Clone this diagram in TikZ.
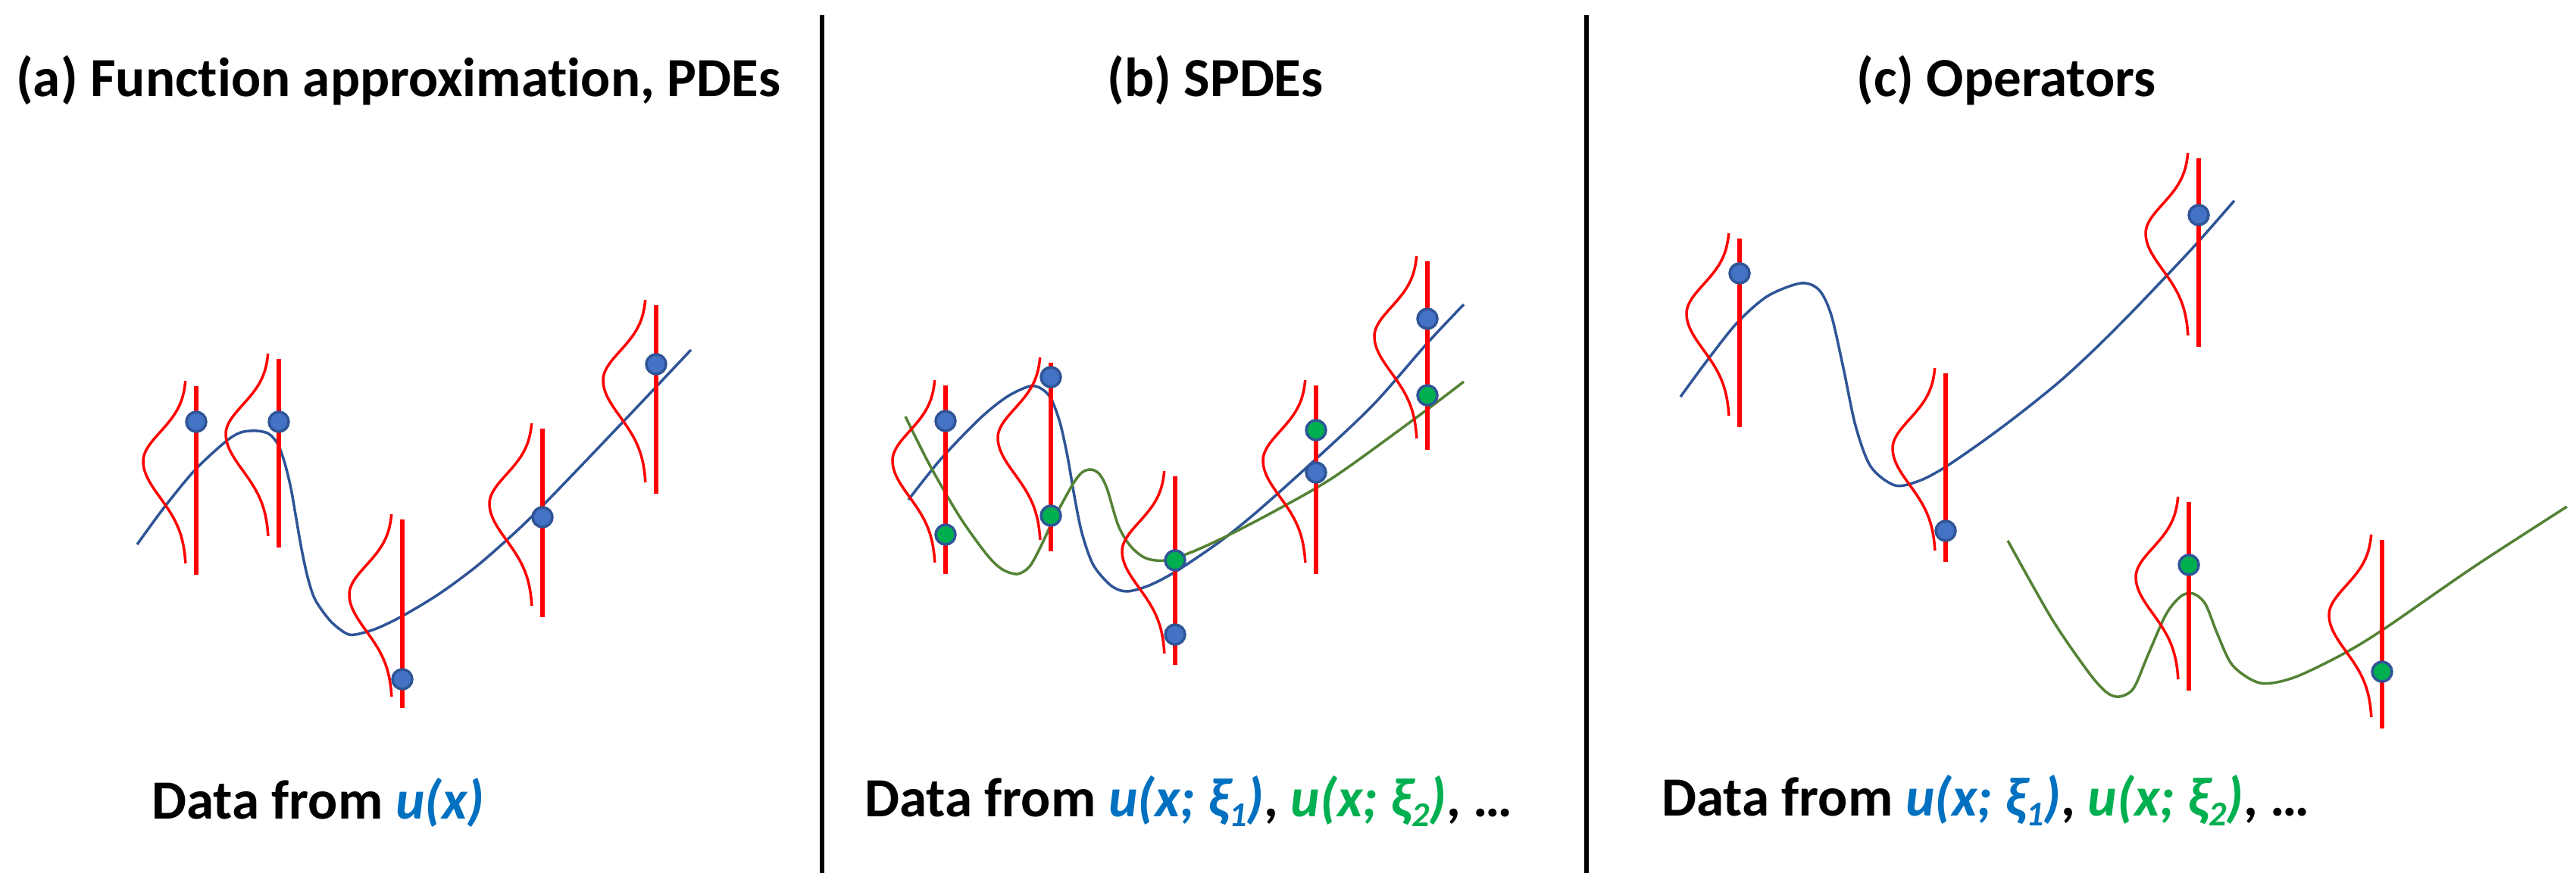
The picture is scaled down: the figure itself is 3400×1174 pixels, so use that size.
\documentclass[tikz,border=0pt]{standalone}
\usepackage{fontspec}
\setmainfont{Carlito}[Ligatures={NoCommon}]
\definecolor{bcurve}{HTML}{2F5597}
\definecolor{bfill}{HTML}{4472C4}
\definecolor{gfill}{HTML}{00B050}
\definecolor{gcurve}{HTML}{548235}
\definecolor{tblue}{HTML}{0070C0}
\definecolor{tgreen}{HTML}{00B050}
\newcommand{\lowsub}[1]{\raisebox{-13pt}{\fontsize{46}{50}\selectfont #1}}
\tikzset{
  redbar/.style={draw=red, line width=6pt},
  gausscurve/.style={draw=red, line width=3.5pt},
  bluecurve/.style={draw=bcurve, line width=3.5pt},
  greencurve/.style={draw=gcurve, line width=3.5pt},
  divider/.style={draw=black, line width=6pt},
  bdot/.style={circle, draw=bcurve, fill=bfill, line width=3.5pt, minimum size=26pt, inner sep=0pt},
  gdot/.style={circle, draw=bcurve, fill=gfill, line width=3.5pt, minimum size=26pt, inner sep=0pt},
  txt/.style={inner sep=0pt, font=\fontsize{73}{88}\selectfont\bfseries},
  pics/meas/.style={code={
    \draw[redbar] (0,0) -- (0,249);
    \draw[gausscurve] plot[domain=0:1,samples=41,smooth]
      ({-13-57*exp(-0.5*((\x-0.44)/((\x<0.44)*0.16+(\x>=0.44)*0.2))^2)},{-7+241*\x});
  }}
}
\begin{document}
\begin{tikzpicture}[x=1pt,y=-1pt]
\useasboundingbox (0,0) rectangle (3400,1174);

% dividers
\coordinate (d1t) at (1085,20); \coordinate (d1b) at (1085,1153);
\coordinate (d2t) at (2094,20); \coordinate (d2b) at (2094,1153);
\draw[divider] (d1t) -- (d1b);
\draw[divider] (d2t) -- (d2b);

% titles
\node[txt, anchor=base west] (ta) at (21,128) {(a) Function approximation, PDEs};
\node[txt, anchor=base] (tb) at (1604,128) {(b) SPDEs};
\node[txt, anchor=base west] (tc) at (2450,128) {(c) Operators};

% bottom texts
\node[txt, anchor=base west] (da) at (200,1081) {Data from \textcolor{tblue}{\itshape u(x)}};
\node[txt, anchor=base west] (db) at (1141,1078) {Data from \textcolor{tblue}{\itshape u(x; ξ\lowsub{1})}, \textcolor{tgreen}{\itshape u(x; ξ\lowsub{2})}, …};
\node[txt, anchor=base west] (dc) at (2193,1077) {Data from \textcolor{tblue}{\itshape u(x; ξ\lowsub{1})}, \textcolor{tgreen}{\itshape u(x; ξ\lowsub{2})}, …};

% ---------- panel (a) ----------
\draw[bluecurve] plot[smooth, tension=0.5] coordinates {
 (181,719) (216,671) (257,621) (298,583) (318,571) (339,569) (355,573) (367,587) (376,612) (384,645)
 (391,685) (398,725) (406,762) (416,792) (436,820) (456,836) (469,838) (497,830) (532,813)
 (580,784) (630,747) (680,703) (716,668) (770,612) (830,549) (880,496) (912,462)};
\pic at (259,510) {meas};
\pic at (368,474) {meas};
\pic at (531,686) {meas};
\pic at (716,566) {meas};
\pic at (866,403) {meas};
\node[bdot] (a1) at (259,557) {};
\node[bdot] (a2) at (368,557) {};
\node[bdot] (a3) at (531,897) {};
\node[bdot] (a4) at (716,683) {};
\node[bdot] (a5) at (866,481) {};

% ---------- panel (b) ----------
\draw[bluecurve] plot[smooth, tension=0.5] coordinates {
 (1199,660) (1242,606) (1293,553) (1329,524) (1359,510) (1374,513) (1387,526) (1399,558)
 (1409,603) (1418,655) (1428,704) (1443,746) (1466,773) (1487,781) (1517,773) (1553,754)
 (1609,716) (1660,675) (1737,606) (1813,534) (1884,453) (1932,402)};
\draw[greencurve] plot[smooth, tension=0.5] coordinates {
 (1195,550) (1227,614) (1267,683) (1303,733) (1323,752) (1343,758) (1359,748) (1374,721)
 (1390,687) (1415,641) (1428,624) (1440,620) (1451,626) (1461,645) (1476,694) (1492,721)
 (1512,737) (1538,740) (1573,729) (1619,708) (1686,673) (1762,629) (1874,548) (1932,504)};
\pic at (1248,509) {meas};
\pic at (1387,479) {meas};
\pic at (1551,629) {meas};
\pic at (1737,509) {meas};
\pic at (1884,345) {meas};
\node[bdot] (b1) at (1248,556) {};
\node[bdot] (b2) at (1387,498) {};
\node[bdot] (b3) at (1551,838) {};
\node[bdot] (b4) at (1737,624) {};
\node[bdot] (b5) at (1884,421) {};
\node[gdot] (g1) at (1248,706) {};
\node[gdot] (g2) at (1387,681) {};
\node[gdot] (g3) at (1551,740) {};
\node[gdot] (g4) at (1737,568) {};
\node[gdot] (g5) at (1884,522) {};

% ---------- panel (c) ----------
\draw[bluecurve] plot[smooth, tension=0.5] coordinates {
 (2218,524) (2254,475) (2293,426) (2333,391) (2377,374) (2401,383) (2417,416) (2433,486)
 (2449,562) (2469,616) (2501,641) (2533,635) (2564,619) (2604,592) (2644,563) (2684,532)
 (2724,499) (2768,458) (2812,414) (2856,368) (2899,322) (2949,265)};
\draw[greencurve] plot[smooth, tension=0.5] coordinates {
 (2650,714) (2708,817) (2756,887) (2780,914) (2797,920) (2816,909) (2835,865) (2859,811)
 (2879,787) (2895,784) (2911,798) (2927,838) (2947,879) (2983,902) (3027,895) (3090,865)
 (3146,831) (3266,748) (3388,669)};
\pic at (2296,315) {meas};
\pic at (2568,493) {meas};
\pic at (2902,209) {meas};
\pic at (2889,663) {meas};
\pic at (3144,713) {meas};
\node[bdot] (c1) at (2296,361) {};
\node[bdot] (c2) at (2568,701) {};
\node[bdot] (c3) at (2902,284) {};
\node[gdot] (c4) at (2889,746) {};
\node[gdot] (c5) at (3144,887) {};
\end{tikzpicture}
\end{document}
